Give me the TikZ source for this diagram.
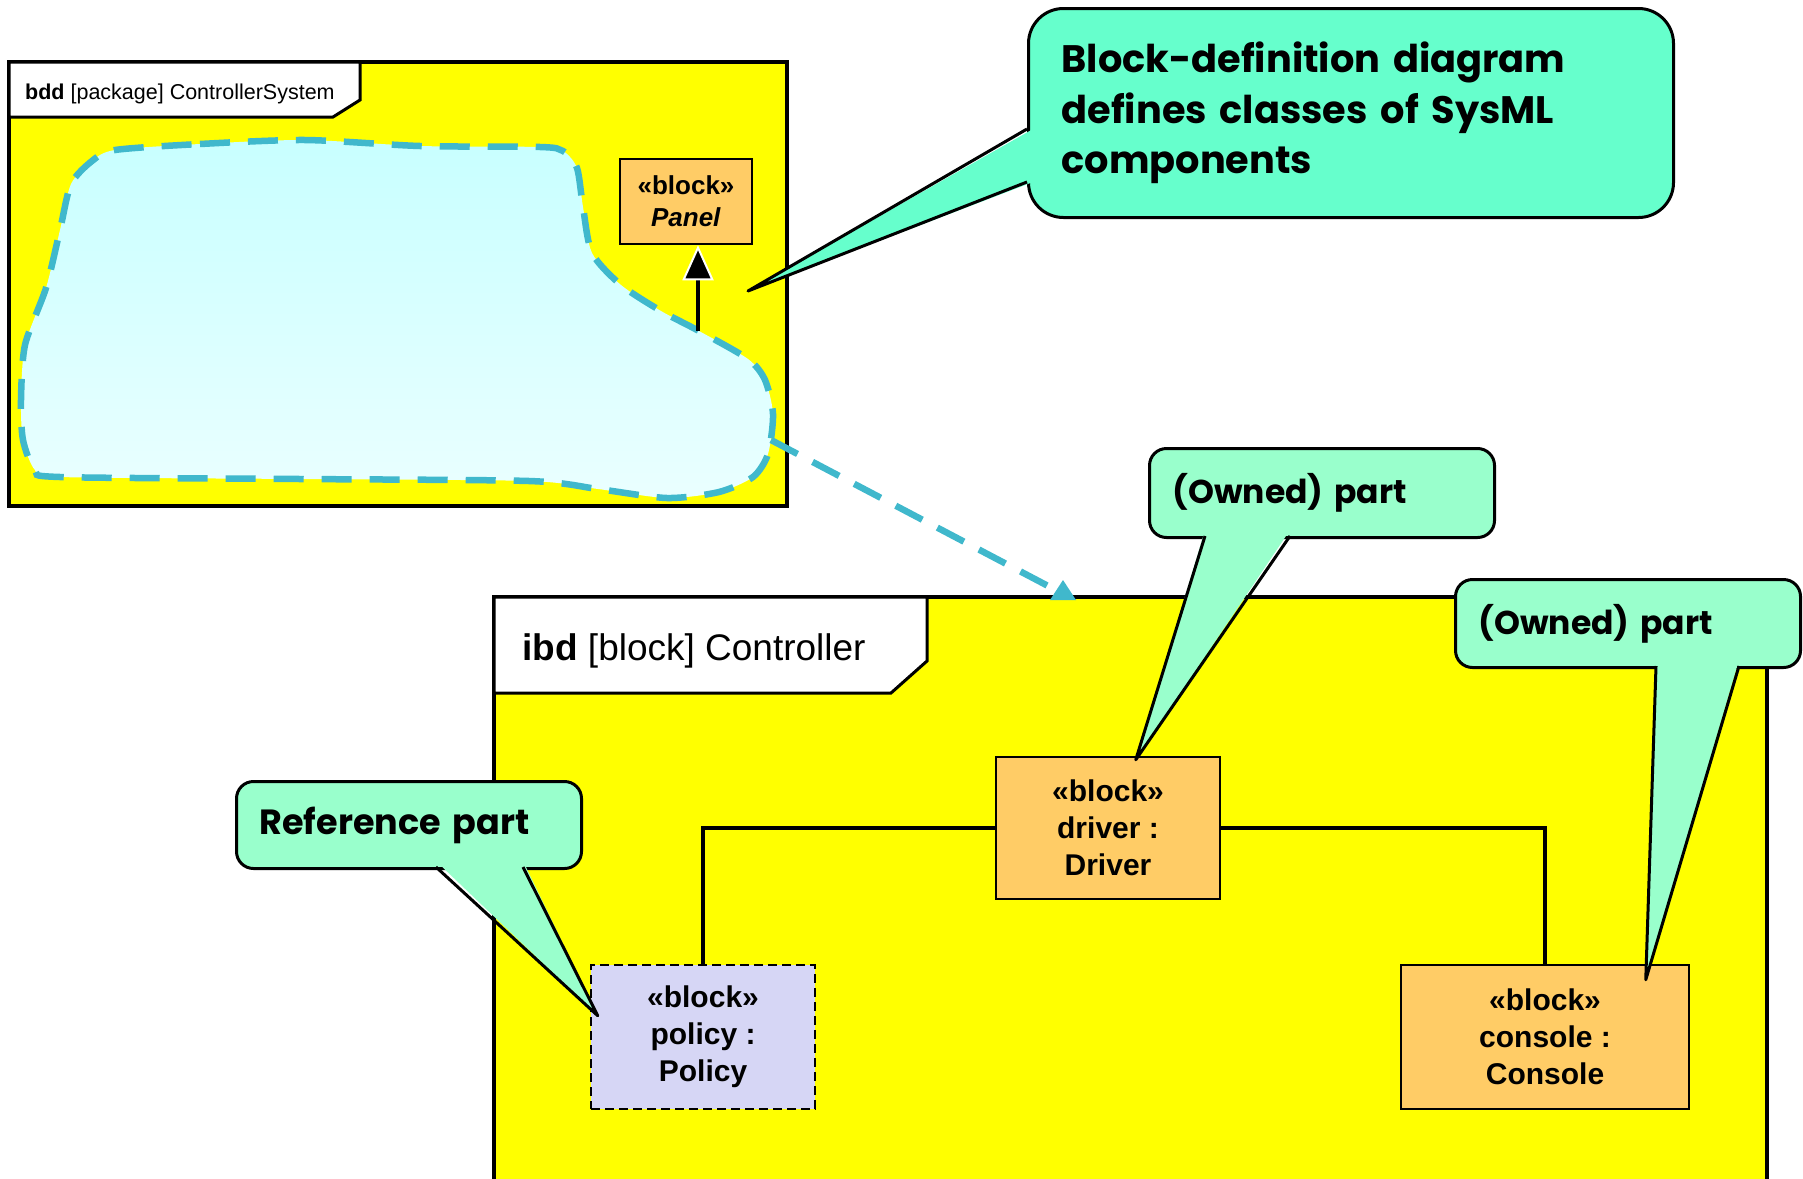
\documentclass[tikz,border=0pt]{standalone}
\usepackage{fontspec}
\setmainfont{Liberation Sans}
\newfontfamily\notefont{Poppins}
\usetikzlibrary{arrows.meta,calc}
\definecolor{frameyellow}{HTML}{FFFF00}
\definecolor{blockorange}{HTML}{FFCC66}
\definecolor{policyblue}{HTML}{D6D6F5}
\definecolor{notedeep}{HTML}{66FFCC}
\definecolor{notelight}{HTML}{99FFCC}
\definecolor{blobline}{HTML}{40B8CC}
\definecolor{blobtop}{HTML}{C8FFFF}
\definecolor{blobbot}{HTML}{EAFFFF}
\begin{document}
\begin{tikzpicture}[x=1pt,y=-1pt,
  framebox/.style={draw=black, line width=3.5pt, fill=frameyellow},
  tabbox/.style={draw=black, line width=3pt, fill=white, line join=miter},
  block/.style={draw=black, line width=2.5pt, fill=blockorange, align=center,
    inner sep=0pt, font=\fontsize{30}{37}\selectfont\bfseries},
  refblock/.style={block, fill=policyblue, dash pattern=on 9pt off 5pt},
  wire/.style={draw=black, line width=3.5pt},
  note/.style={draw=black, line width=3pt, rounded corners=17pt, align=left,
    inner xsep=23pt, inner ysep=0pt, anchor=north west,
    font=\notefont\fontsize{33}{50}\selectfont\bfseries},
  pointer/.style={draw=black, line width=3pt, line join=round},
  ]
\useasboundingbox (0,0) rectangle (1803,1178);
\clip (0,0) rectangle (1803,1178);

% ---- bdd frame ----
\draw[framebox] (9,62) rectangle (787,506);
\draw[tabbox] (9,62) -- (360,62) -- (360,100) -- (333,117) -- (9,117) -- cycle;
\node[anchor=west, inner sep=0pt, font=\fontsize{21.5}{26}\selectfont] (bddtitle) at (25,94)
  {\textbf{bdd} [package] ControllerSystem};

% cloud standing for the omitted block definitions
\path[top color=blobtop, bottom color=blobbot]
  plot[smooth cycle, tension=0.45] coordinates {
  (115,150) (200,144) (305,140) (420,146) (540,147) (563,151) (577,168) (583,207)
  (592,253) (621,285) (661,311) (699,331) (748,359) (765,380) (773,414) (768,454)
  (753,477) (719,492) (667,498) (598,489) (529,481) (300,479) (60,477) (35,470)
  (23,440) (21,400) (25,345) (46,288) (60,230) (71,184) (92,161)};
\draw[blobline, line width=6.5pt, dash pattern=on 30pt off 18pt]
  plot[smooth cycle, tension=0.45] coordinates {
  (115,150) (200,144) (305,140) (420,146) (540,147) (563,151) (577,168) (583,207)
  (592,253) (621,285) (661,311) (699,331) (748,359) (765,380) (773,414) (768,454)
  (753,477) (719,492) (667,498) (598,489) (529,481) (300,479) (60,477) (35,470)
  (23,440) (21,400) (25,345) (46,288) (60,230) (71,184) (92,161)};

\node[block, minimum width=132pt, minimum height=85pt,
  font=\fontsize{26}{32}\selectfont\bfseries] (panel) at (686,201.5)
  {«block»\\\textit{Panel}};
\coordinate (genfoot) at (698,331);
\draw[wire, -{Triangle[color=white, fill=black, width=31pt, length=35pt, line width=2pt]}]
  (genfoot) -- (genfoot |- panel.south);

% ---- ibd frame ----
\draw[framebox] (494,597) rectangle (1767,1210);
\draw[tabbox] (494,597) -- (927,597) -- (927,661) -- (891,693) -- (494,693) -- cycle;
\node[anchor=west, inner sep=0pt, font=\fontsize{37}{44}\selectfont] (ibdtitle) at (522,651)
  {\textbf{ibd} [block] Controller};

\node[block, minimum width=224pt, minimum height=142pt] (driver) at (1108,828)
  {«block»\\driver :\\Driver};
\node[refblock, minimum width=224pt, minimum height=144pt] (policy) at (703,1037)
  {«block»\\policy :\\Policy};
\node[block, minimum width=288pt, minimum height=144pt] (console) at (1545,1037)
  {«block»\\console :\\Console};

\draw[wire] (policy.north) |- (driver.west);
\draw[wire] (driver.east) -| (console.north);

% dependency from the bdd cloud to the ibd frame, ending in an upright marker
\coordinate (blobR) at (771,440);
\coordinate (ibdmark) at (1063,600);
\draw[blobline, line width=6.5pt, dash pattern=on 30pt off 17pt]
  (blobR) -- ($(ibdmark)+(-13,-13)$);
\fill[blobline] ($(ibdmark)+(-13,0)$) -- ($(ibdmark)+(0,-20)$) -- ($(ibdmark)+(13,0)$) -- cycle;

% ---- callouts ----
\node[note, fill=notedeep, rounded corners=35pt, minimum width=645pt, minimum height=209pt,
  text width=579pt, inner xsep=33pt, font=\notefont\fontsize{38.3}{50.6}\selectfont\bfseries]
  (bddnote) at (1027,7)
  {Block-definition diagram\\defines classes of SysML\\components};
\coordinate (bddtip) at (748,291);
\fill[notedeep] (1033,129) -- (bddtip) -- (1033,182) -- cycle;
\draw[pointer] (1027,129) -- (bddtip) -- (1027,182);

\node[note, fill=notelight, minimum width=345pt, minimum height=89pt, text width=299pt]
  (drvnote) at (1148,447) {(Owned) part};
\coordinate (drvtip) at ($(driver.north west)+(141,4)$);
\fill[notelight] (1205,530) -- (drvtip) -- (1290,530) -- cycle;
\draw[pointer] (1205,536) -- (drvtip) -- (1290,536);

\node[note, fill=notelight, minimum width=345pt, minimum height=88pt, text width=299pt]
  (connote) at (1454,578) {(Owned) part};
\coordinate (contip) at ($(console.north west)+(246,16)$);
\fill[notelight] (1656,660) -- (contip) -- (1739,660) -- cycle;
\draw[pointer] (1656,666) -- (contip) -- (1739,666);

\node[note, fill=notelight, minimum width=345pt, minimum height=87pt, text width=299pt,
  font=\notefont\fontsize{35}{50}\selectfont\bfseries]
  (refnote) at (235,780) {Reference part};
\coordinate (reftip) at ($(policy.north west)+(8,52)$);
\fill[notelight] (436,861) -- (reftip) -- (523,861) -- cycle;
\draw[pointer] (436,867) -- (reftip) -- (523,867);
\end{tikzpicture}
\end{document}
